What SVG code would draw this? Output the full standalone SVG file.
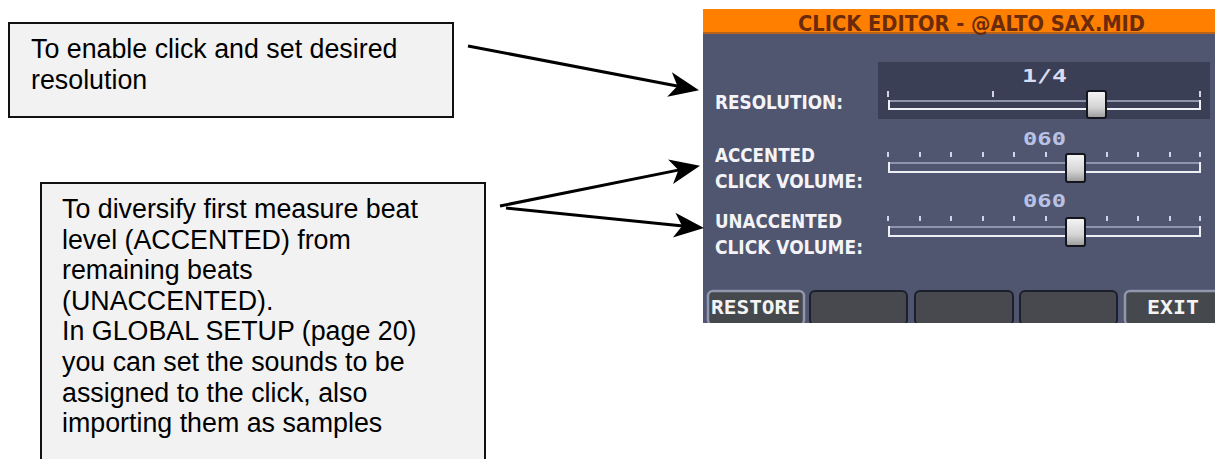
<svg xmlns="http://www.w3.org/2000/svg" width="1215" height="459" viewBox="0 0 1215 459">
  <style>
    .note { fill: #f2f2f2; stroke: #111; stroke-width: 2; }
    .note-text { font-family: "Liberation Sans", Arial, sans-serif; font-size: 26.8px; fill: #000; }
    .conn { fill: none; stroke: #000; stroke-width: 3; marker-end: url(#head); }
    .title { font-family: "DejaVu Sans Condensed", "DejaVu Sans", sans-serif; font-weight: bold; font-size: 21px; fill: #6a2a0c; }
    .label { font-family: "DejaVu Sans Condensed", "DejaVu Sans", sans-serif; font-weight: bold; font-size: 19px; fill: #f4f4f8; }
    .value { font-family: "DejaVu Sans Mono", monospace; font-weight: bold; font-size: 18px; fill: #d8dcf0; }
    .tick { fill: #d0d4e6; }
    .rail-top { stroke: #8f95ad; stroke-width: 2; }
    .rail-bot { stroke: #eef0f6; stroke-width: 2; }
    .rail-cap { stroke: #eef0f6; stroke-width: 2; }
    .thumb { fill: url(#thumbGrad); stroke: #14161e; stroke-width: 2; }
    .btn { fill: #47494e; stroke: #1c1f2c; stroke-width: 2; }
    .btn-hi { fill: #45484d; stroke: #9297ae; stroke-width: 2.5; }
    .btn-text { font-family: "DejaVu Sans Mono", monospace; font-weight: bold; font-size: 20px; fill: #f4f4f4; }
  </style>
  <defs>
    <marker id="head" markerUnits="userSpaceOnUse" markerWidth="40" markerHeight="40" refX="0" refY="0" orient="auto" overflow="visible">
      <path d="M21,0 L-9,-12.5 L-1,0 L-9,12.5 Z" fill="#000"/>
    </marker>
    <linearGradient id="thumbGrad" x1="0" y1="0" x2="0" y2="1">
      <stop offset="0" stop-color="#f6f6f6"/>
      <stop offset="0.6" stop-color="#d4d4d4"/>
      <stop offset="1" stop-color="#9a9a9a"/>
    </linearGradient>
  </defs>

  <!-- callout: resolution -->
  <g id="note-resolution">
    <rect class="note" x="9" y="23" width="444" height="94"/>
    <text class="note-text" x="31" y="58">To enable click and set desired</text>
    <text class="note-text" x="31" y="88.5">resolution</text>
  </g>

  <!-- callout: accented / unaccented volumes -->
  <g id="note-volume">
    <rect class="note" x="41" y="183" width="444" height="290"/>
    <text class="note-text" x="62" y="218">To diversify first measure beat</text>
    <text class="note-text" x="62" y="248.6">level (ACCENTED) from</text>
    <text class="note-text" x="62" y="279.2">remaining beats</text>
    <text class="note-text" x="62" y="309.8">(UNACCENTED).</text>
    <text class="note-text" x="62" y="340.4">In GLOBAL SETUP (page 20)</text>
    <text class="note-text" x="62" y="371">you can set the sounds to be</text>
    <text class="note-text" x="62" y="401.6">assigned to the click, also</text>
    <text class="note-text" x="62" y="432.2">importing them as samples</text>
  </g>

  <!-- Click editor screen -->
  <g id="click-editor">
    <rect x="703" y="9" width="512" height="314" fill="#50566f"/>
    <rect x="703" y="9" width="512" height="24" fill="#ff7f00"/>
    <rect x="703" y="32" width="512" height="2" fill="#b8621c"/>
    <text class="title" x="798" y="30.5" textLength="347" lengthAdjust="spacingAndGlyphs">CLICK EDITOR - @ALTO SAX.MID</text>

    <!-- resolution slider -->
    <rect x="878" y="62" width="332" height="57" fill="#3b3f55"/>
    <text class="label" x="715" y="109" textLength="128" lengthAdjust="spacingAndGlyphs">RESOLUTION:</text>
    <text class="value" x="1022" y="82" textLength="45" lengthAdjust="spacingAndGlyphs">1/4</text>
    <rect class="tick" x="887" y="91" width="2" height="6"/>
    <rect class="tick" x="992" y="91" width="2" height="6"/>
    <rect class="tick" x="1199" y="91" width="2" height="6"/>
    <line class="rail-top" x1="889" y1="101" x2="1200" y2="101"/>
    <line class="rail-bot" x1="889" y1="109" x2="1200" y2="109"/>
    <line class="rail-cap" x1="889" y1="100" x2="889" y2="110"/>
    <line class="rail-cap" x1="1200" y1="100" x2="1200" y2="110"/>
    <rect class="thumb" x="1087" y="91" width="19" height="27" rx="2"/>

    <!-- accented click volume -->
    <text class="label" x="715" y="162" textLength="100" lengthAdjust="spacingAndGlyphs">ACCENTED</text>
    <text class="label" x="715" y="188" textLength="148" lengthAdjust="spacingAndGlyphs">CLICK VOLUME:</text>
    <text class="value" x="1023" y="145" textLength="43" lengthAdjust="spacingAndGlyphs" style="fill:#b9c2e6">060</text>
    <g class="tick">
      <rect x="887" y="152" width="2" height="5"/>
      <rect x="919" y="152" width="2" height="5"/>
      <rect x="950" y="152" width="2" height="5"/>
      <rect x="982" y="152" width="2" height="5"/>
      <rect x="1013" y="152" width="2" height="5"/>
      <rect x="1045" y="152" width="2" height="5"/>
      <rect x="1106" y="152" width="2" height="5"/>
      <rect x="1137" y="152" width="2" height="5"/>
      <rect x="1169" y="152" width="2" height="5"/>
      <rect x="1199" y="152" width="2" height="5"/>
    </g>
    <line class="rail-top" x1="889" y1="163" x2="1200" y2="163"/>
    <line class="rail-bot" x1="889" y1="172" x2="1200" y2="172"/>
    <line class="rail-cap" x1="889" y1="162" x2="889" y2="173"/>
    <line class="rail-cap" x1="1200" y1="162" x2="1200" y2="173"/>
    <rect class="thumb" x="1066" y="154" width="19" height="28" rx="2"/>

    <!-- unaccented click volume -->
    <text class="label" x="715" y="228" textLength="127" lengthAdjust="spacingAndGlyphs">UNACCENTED</text>
    <text class="label" x="715" y="253.5" textLength="148" lengthAdjust="spacingAndGlyphs">CLICK VOLUME:</text>
    <text class="value" x="1023" y="207" textLength="43" lengthAdjust="spacingAndGlyphs" style="fill:#b9c2e6">060</text>
    <g class="tick">
      <rect x="887" y="216" width="2" height="5"/>
      <rect x="919" y="216" width="2" height="5"/>
      <rect x="950" y="216" width="2" height="5"/>
      <rect x="982" y="216" width="2" height="5"/>
      <rect x="1013" y="216" width="2" height="5"/>
      <rect x="1045" y="216" width="2" height="5"/>
      <rect x="1106" y="216" width="2" height="5"/>
      <rect x="1137" y="216" width="2" height="5"/>
      <rect x="1169" y="216" width="2" height="5"/>
      <rect x="1199" y="216" width="2" height="5"/>
    </g>
    <line class="rail-top" x1="889" y1="227" x2="1200" y2="227"/>
    <line class="rail-bot" x1="889" y1="236" x2="1200" y2="236"/>
    <line class="rail-cap" x1="889" y1="226" x2="889" y2="237"/>
    <line class="rail-cap" x1="1200" y1="226" x2="1200" y2="237"/>
    <rect class="thumb" x="1066" y="218" width="19" height="28" rx="2"/>

    <!-- soft keys -->
    <rect class="btn-hi" x="708" y="291" width="96" height="34" rx="5"/>
    <text class="btn-text" x="711" y="314" textLength="89" lengthAdjust="spacingAndGlyphs">RESTORE</text>
    <rect class="btn" x="810" y="291" width="97" height="34" rx="5"/>
    <rect class="btn" x="915" y="291" width="98" height="34" rx="5"/>
    <rect class="btn" x="1020" y="291" width="97" height="34" rx="5"/>
    <rect class="btn-hi" x="1125" y="291" width="96" height="34" rx="5"/>
    <text class="btn-text" x="1147" y="314" textLength="52" lengthAdjust="spacingAndGlyphs">EXIT</text>
    <rect x="703" y="323" width="512" height="10" fill="#fff"/>
  </g>

  <!-- leader arrows -->
  <g id="connectors">
    <path class="conn" d="M468,46 L678.4,86.2"/>
    <path class="conn" d="M500,206 L679.4,169.9"/>
    <path class="conn" d="M506,208 L683.1,226"/>
  </g>
</svg>
